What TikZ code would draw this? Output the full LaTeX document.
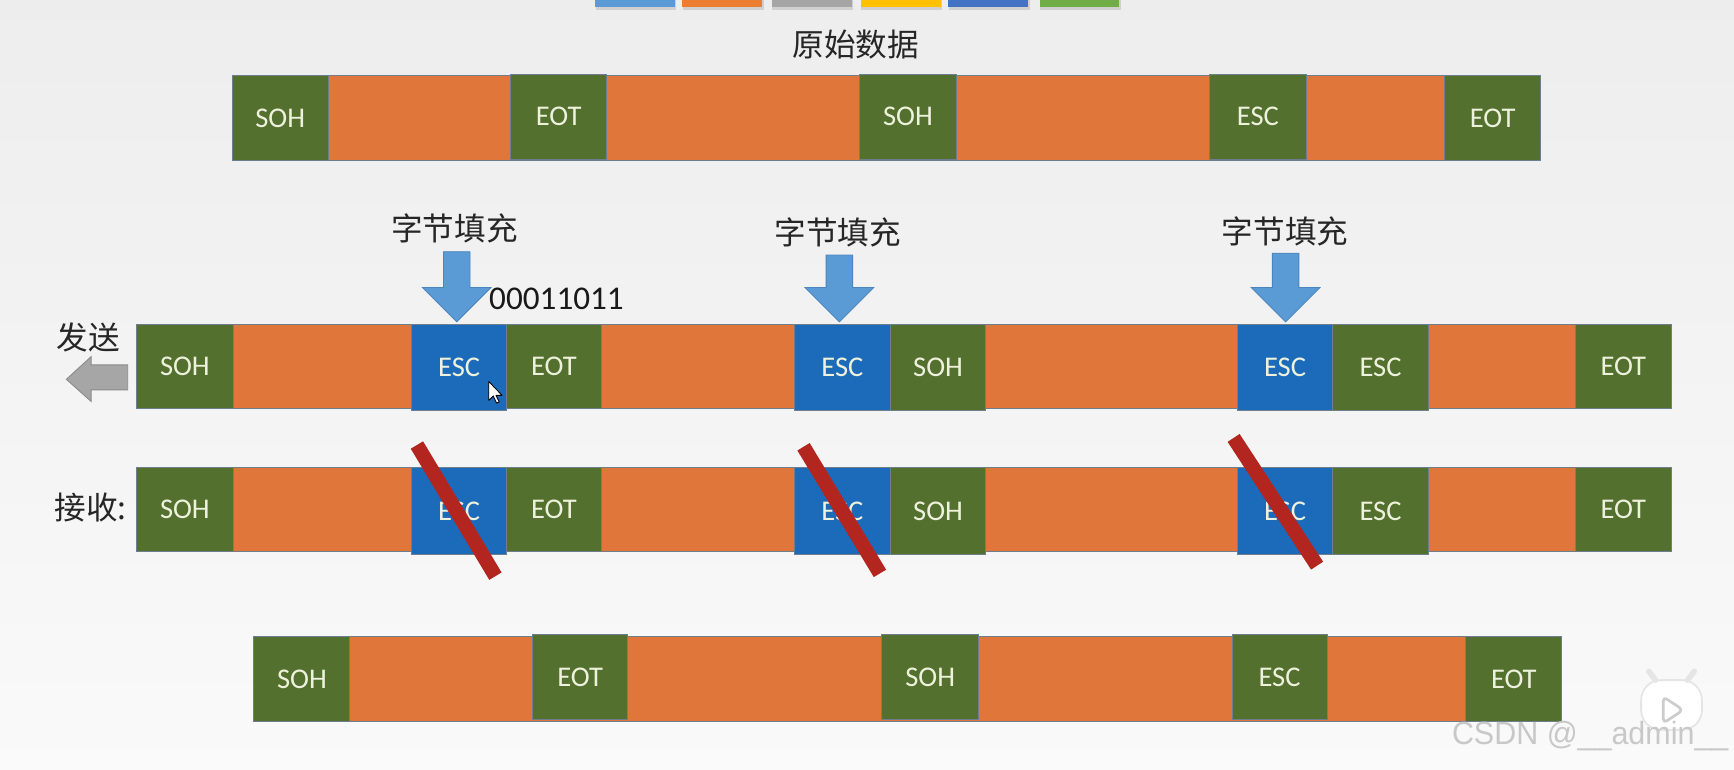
\documentclass[tikz,border=0pt]{standalone}
\usepackage{fontspec}
\usetikzlibrary{fit}
\newfontfamily\cjk{Noto Sans CJK SC}
\newfontfamily\lblfont{Carlito}
\newfontfamily\wmfont{Liberation Sans}
\definecolor{cgreen}{HTML}{53702F}
\definecolor{corange}{HTML}{E0763A}
\definecolor{cblue}{HTML}{1C6BBB}
\definecolor{cborder}{HTML}{6F7E8C}
\definecolor{ctext}{HTML}{EEF2DC}
\definecolor{carrow}{HTML}{5B9BD5}
\definecolor{carrowb}{HTML}{4A85BE}
\definecolor{cred}{HTML}{B3261F}
\definecolor{cgray}{HTML}{A6A6A6}
\definecolor{cgrayb}{HTML}{8A8A8A}
\definecolor{cwm}{HTML}{C8C8C8}
\definecolor{tb1}{HTML}{5B9BD5}
\definecolor{tb2}{HTML}{ED7D31}
\definecolor{tb3}{HTML}{A5A5A5}
\definecolor{tb4}{HTML}{FFC000}
\definecolor{tb5}{HTML}{4472C4}
\definecolor{tb6}{HTML}{70AD47}
\tikzset{
  cell/.style={draw=cborder, line width=0.4pt, inner sep=0pt, outer sep=0pt},
  gcell/.style={cell, fill=cgreen},
  bcell/.style={cell, fill=cblue},
  obar/.style={cell, fill=corange},
  celltext/.style={inner sep=0pt, text=ctext, font=\lblfont\fontsize{12.9}{15}\selectfont},
  cjklabel/.style={font=\cjk\fontsize{14.3}{16}\selectfont, text=black!85, inner sep=0pt},
  barrow/.style={fill=carrow, draw=carrowb, line width=0.4pt},
  slash/.style={draw=cred, line width=6.5pt, line cap=butt},
}
\newcommand\cellbox[7]{\node[#6, fit={(#2,#4) (#3,#5)}] (#1) {};
  \node[celltext] (#1t) at (#1.center) {#7};}
\newcommand\dnarrow[2]{%
  \draw[barrow] (#1-12,#2) -- (#1+12,#2) -- (#1+12,260) -- (#1+31,260) --
    (#1,291) -- (#1-31,260) -- (#1-12,260) -- cycle;}
\begin{document}
\begin{tikzpicture}[x=0.5pt, y=-0.5pt]
\shade[top color=black!7, bottom color=black!2] (0,0) rectangle (1568,695.4);
\useasboundingbox (0,0) rectangle (1568,695.4);

% top colour swatches
\foreach \a/\b/\c in {538/610/tb1, 617/689/tb2, 698/770/tb3, 778.5/850.5/tb4, 857.6/929.5/tb5, 940/1011.8/tb6}{
  \fill[black, opacity=0.12] (\a+0.5,0) rectangle (\b+1.5,9);
  \fill[\c] (\a,0) rectangle (\b,6);
}

\node[cjklabel] (orig) at (773.8,40.4) {原始数据};

% row 1 : original data
\cellbox{r1bar}{210}{1393}{68.4}{145.3}{obar}{}
\cellbox{r1soh}{210}{296.8}{68.4}{145.3}{gcell}{SOH}
\cellbox{r1eot}{461.9}{548.6}{66.9}{143.8}{gcell}{EOT}
\cellbox{r1sohb}{777.4}{864.6}{66.9}{143.8}{gcell}{SOH}
\cellbox{r1esc}{1093.9}{1181}{66.9}{143.8}{gcell}{ESC}
\cellbox{r1eotb}{1306.5}{1393}{68.4}{145.3}{gcell}{EOT}

% labels and arrows
\node[cjklabel] (fillA) at (411,206.5) {字节填充};
\node[cjklabel] (fillB) at (757.7,210) {字节填充};
\node[cjklabel] (fillC) at (1162,209) {字节填充};
\dnarrow{413}{227.6}
\dnarrow{759}{230.6}
\dnarrow{1162.5}{229}
\node[font=\lblfont\fontsize{15}{18}\selectfont, text=black!90, anchor=west, inner sep=0pt] (bits) at (442,270.5) {00011011};

% row 2 : send
\node[cjklabel] (send) at (80,305) {发送};
\draw[fill=cgray, draw=cgrayb, line width=0.4pt] (115.5,330) -- (82.4,330) -- (82.4,322.5) -- (60,343) -- (82.4,363) -- (82.4,352.6) -- (115.5,352.6) -- cycle;
\cellbox{sbar}{123.7}{1511}{293}{369}{obar}{}
\cellbox{ssoh}{123.7}{210.7}{293}{369}{gcell}{SOH}
\cellbox{sesc1}{372}{458.4}{293}{371}{bcell}{ESC}
\cellbox{seot}{458.4}{543.5}{293}{369}{gcell}{EOT}
\cellbox{sesc2}{718.6}{805}{293}{371}{bcell}{ESC}
\cellbox{ssohb}{805}{891.5}{293}{371}{gcell}{SOH}
\cellbox{sesc3}{1119}{1205}{293}{371}{bcell}{ESC}
\cellbox{sesc4}{1205}{1291.7}{293}{371}{gcell}{ESC}
\cellbox{seotb}{1424.7}{1511}{293}{369}{gcell}{EOT}

% cursor
\draw[fill=white, draw=black, line width=0.4pt, line join=round] (442,345) -- ++(0,17) -- ++(4,-4) -- ++(3,6.5) -- ++(2.5,-1) -- ++(-3,-6) -- ++(5.5,0) -- cycle;

% row 3 : receive
\node[cjklabel, anchor=east] (recv) at (115,459) {接收:};
\cellbox{rbar}{123.7}{1511}{423}{499}{obar}{}
\cellbox{rsoh}{123.7}{210.7}{423}{499}{gcell}{SOH}
\cellbox{resc1}{372}{458.4}{423}{501}{bcell}{ESC}
\cellbox{reot}{458.4}{543.5}{423}{499}{gcell}{EOT}
\cellbox{resc2}{718.6}{805}{423}{501}{bcell}{ESC}
\cellbox{rsohb}{805}{891.5}{423}{501}{gcell}{SOH}
\cellbox{resc3}{1119}{1205}{423}{501}{bcell}{ESC}
\cellbox{resc4}{1205}{1291.7}{423}{501}{gcell}{ESC}
\cellbox{reotb}{1424.7}{1511}{423}{499}{gcell}{EOT}

\draw[slash] (377,402.4) -- (448,521);
\draw[slash] (726.6,404) -- (795.7,518.5);
\draw[slash] (1115.5,396) -- (1191,511.5);

% row 4 : result
\cellbox{r4bar}{229.6}{1412.3}{575.7}{652.5}{obar}{}
\cellbox{r4soh}{229.6}{316.4}{575.7}{652.5}{gcell}{SOH}
\cellbox{r4eot}{481.5}{567.8}{574.1}{651}{gcell}{EOT}
\cellbox{r4sohb}{797.5}{884.7}{574.1}{651}{gcell}{SOH}
\cellbox{r4esc}{1114}{1200}{574.1}{651}{gcell}{ESC}
\cellbox{r4eotb}{1325.4}{1412.3}{575.7}{652.5}{gcell}{EOT}

% watermark icon and text
\draw[draw=black!10, fill=white, line width=0.8pt, rounded corners=9] (1484,615) rectangle (1539,660);
\draw[draw=black!10, line width=2.5pt, line cap=round] (1497,615) -- (1491,607);
\draw[draw=black!10, line width=2.5pt, line cap=round] (1526,615) -- (1532,607);
\draw[draw=black!20, line width=1.2pt, rounded corners=2, line join=round] (1504,630) -- (1522,642) -- (1504,654) -- cycle;
\node[font=\wmfont\fontsize{14.5}{17}\selectfont, text=cwm, anchor=south west, xscale=0.95, inner sep=0pt] (wm) at (1312.6,679.6) {CSDN @\textunderscore\textunderscore admin\textunderscore\textunderscore};
\end{tikzpicture}
\end{document}
